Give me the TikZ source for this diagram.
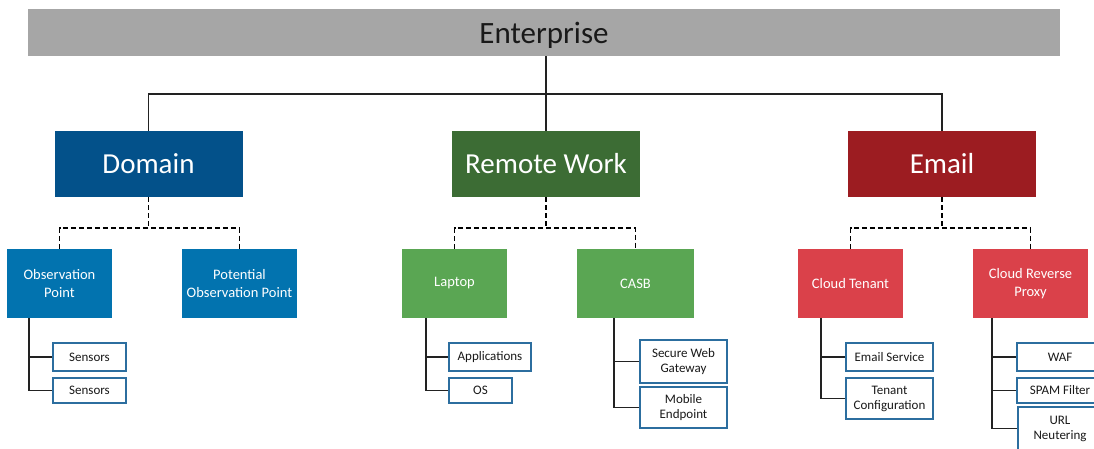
\documentclass[tikz,border=0pt]{standalone}
\usepackage{fontspec}
\setmainfont{Carlito}
\definecolor{entgray}{HTML}{A6A6A6}
\definecolor{domblue}{HTML}{03518A}
\definecolor{rwgreen}{HTML}{3C6C34}
\definecolor{emred}{HTML}{9C1C21}
\definecolor{obsblue}{HTML}{0273AF}
\definecolor{lapgreen}{HTML}{5AA653}
\definecolor{ctred}{HTML}{DA414A}
\definecolor{leafblue}{HTML}{2C6E9F}
\definecolor{linec}{HTML}{222222}
\tikzset{
  box/.style={draw=none, inner sep=0pt, align=center, text=white},
  topbox/.style={box, fill=entgray, text=black!90, font=\fontsize{31}{34}\selectfont, minimum width=1032pt, minimum height=47pt, text depth=0pt},
  lvlone/.style={box, minimum width=188pt, minimum height=66pt, font=\fontsize{29}{32}\selectfont},
  lvltwo/.style={box, minimum height=69pt, font=\fontsize{14.5}{18}\selectfont},
  leaf/.style={draw=leafblue, line width=1.5pt, fill=white, text=black!90, inner sep=0pt, align=center, font=\fontsize{13}{15}\selectfont},
  bus/.style={line width=1.6pt, draw=linec},
  dbus/.style={line width=1.6pt, draw=black, dash pattern=on 5pt off 3pt},
}
\begin{document}
\begin{tikzpicture}[x=1pt,y=-1pt]
\clip (0,0) rectangle (1094,448);
\fill[white] (0,0) rectangle (1094,448);
% top
\node[topbox] (ent) at (544,32.5) {Enterprise};
% level one
\node[lvlone, fill=domblue] (dom) at (148.5,164) {Domain};
\node[lvlone, fill=rwgreen] (rw) at (546,164) {Remote Work};
\node[lvlone, fill=emred] (em) at (942,164) {Email};
% level two
\node[lvltwo, fill=obsblue, minimum width=105pt] (obs) at (59.5,283.5) {Observation\\Point};
\node[lvltwo, fill=obsblue, minimum width=115pt] (pot) at (239.5,283.5) {Potential\\Observation Point};
\node[lvltwo, fill=lapgreen, minimum width=105pt] (lap) at (454.5,283.5) {Laptop};
\node[lvltwo, fill=lapgreen, minimum width=117pt] (casb) at (635.5,283.5) {CASB};
\node[lvltwo, fill=ctred, minimum width=105pt] (ct) at (850.5,283.5) {Cloud Tenant};
\node[lvltwo, fill=ctred, minimum width=115pt] (crp) at (1030.5,283.5) {Cloud Reverse\\Proxy};
% leaves
\node[leaf, minimum width=73pt, minimum height=28pt] (s1) at (89.5,357) {Sensors};
\node[leaf, minimum width=73pt, minimum height=25pt] (s2) at (89.5,390.5) {Sensors};
\node[leaf, minimum width=82pt, minimum height=28pt] (app) at (490,357) {Applications};
\node[leaf, minimum width=63pt, minimum height=25pt] (os) at (480.5,390.5) {OS};
\node[leaf, minimum width=87pt, minimum height=43pt] (swg) at (683.5,361.5) {Secure Web\\Gateway};
\node[leaf, minimum width=87pt, minimum height=41pt] (me) at (683.5,407.5) {Mobile\\Endpoint};
\node[leaf, minimum width=87pt, minimum height=28pt] (es) at (889.5,357) {Email Service};
\node[leaf, minimum width=87pt, minimum height=41pt] (tc) at (889.5,398.5) {Tenant\\Configuration};
\node[leaf, minimum width=86pt, minimum height=28pt] (waf) at (1060,357) {WAF};
\node[leaf, minimum width=86pt, minimum height=25pt] (spam) at (1060,390.5) {SPAM Filter};
\node[leaf, minimum width=84pt, minimum height=43pt] (url) at (1060,428.5) {URL\\Neutering};
% top connectors
\draw[line width=1.2pt, draw=linec] (ent.south -| rw.north) -- (rw.north);
\coordinate (hub) at (546,94);
\draw[bus] (dom.north) |- (hub) -| (em.north);
% dashed connectors
\draw[dbus] (dom.south) -- ++(0,31) coordinate (dj);
\draw[dbus] (obs.north) |- (dj) -| (pot.north);
\draw[dbus] (rw.south) -- ++(0,31) coordinate (rj);
\draw[dbus] (lap.north) |- (rj) -| (casb.north);
\draw[dbus] (em.south) -- ++(0,31) coordinate (ej);
\draw[dbus] (ct.north) |- (ej) -| (crp.north);
% leaf connectors
\draw[bus] ([xshift=22pt]obs.south west) |- (s1.west);
\draw[bus] ([xshift=22pt]obs.south west) |- (s2.west);
\draw[bus] ([xshift=24pt]lap.south west) |- (app.west);
\draw[bus] ([xshift=24pt]lap.south west) |- (os.west);
\draw[bus] ([xshift=37pt]casb.south west) |- (swg.west);
\draw[bus] ([xshift=37pt]casb.south west) |- (me.west);
\draw[bus] ([xshift=23pt]ct.south west) |- (es.west);
\draw[bus] ([xshift=23pt]ct.south west) |- (tc.west);
\draw[bus] ([xshift=19pt]crp.south west) |- (waf.west);
\draw[bus] ([xshift=19pt]crp.south west) |- (spam.west);
\draw[bus] ([xshift=19pt]crp.south west) |- (url.west);
\end{tikzpicture}
\end{document}
